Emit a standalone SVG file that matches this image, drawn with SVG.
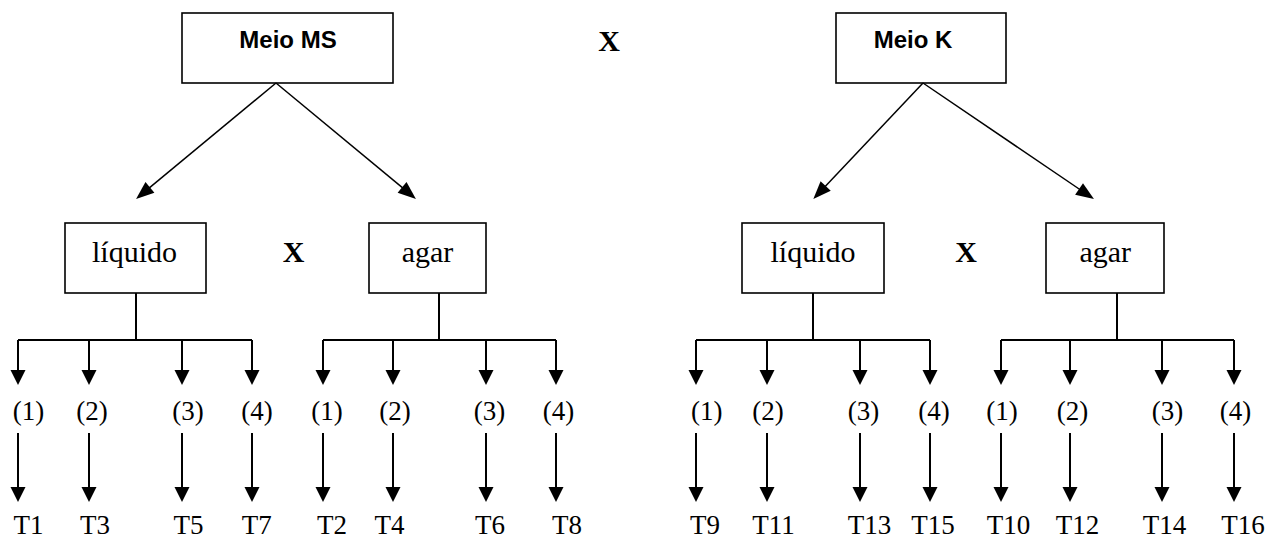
<svg xmlns="http://www.w3.org/2000/svg" width="1269" height="538" viewBox="0 0 1269 538">
<style>
.box{fill:#fff;stroke:#000;stroke-width:1.6}
.hd{font-family:"Liberation Sans",Arial,sans-serif;font-weight:bold;font-size:24px;text-anchor:middle}
.tx{font-family:"Liberation Serif","Times New Roman",serif;font-size:30px;text-anchor:middle}
.sm{font-family:"Liberation Serif","Times New Roman",serif;font-size:27px;text-anchor:middle}
.xx{font-family:"Liberation Serif","Times New Roman",serif;font-weight:bold;font-size:30px;text-anchor:middle}
.ln{fill:none;stroke:#000;stroke-width:2}
.dg{fill:none;stroke:#000;stroke-width:1.5}
.av{marker-end:url(#av)}
.ad{marker-end:url(#ad)}
</style>
<defs>
<marker id="av" markerUnits="userSpaceOnUse" markerWidth="16" markerHeight="16" refX="8" refY="7.5" orient="auto" overflow="visible"><path d="M0,0 L15,7.5 L0,15 Z" fill="#000"/></marker>
<marker id="ad" markerUnits="userSpaceOnUse" markerWidth="18" markerHeight="15" refX="9" refY="7" orient="auto" overflow="visible"><path d="M0,0 L18,7 L0,14 Z" fill="#000"/></marker>
</defs>
<rect width="1269" height="538" fill="#fff"/>
<g id="meio-ms"><rect class="box" x="182" y="13" width="211" height="70"/><text class="hd" x="288" y="48">Meio MS</text></g>
<g id="meio-k"><rect class="box" x="836" y="13" width="170" height="70"/><text class="hd" x="913" y="48">Meio K</text></g>
<g id="x-top"><text class="xx" x="609" y="51">X</text></g>
<g id="ms-liquido"><rect class="box" x="65" y="223" width="141" height="70"/><text class="tx" x="134.5" y="262">líquido</text></g>
<g id="ms-agar"><rect class="box" x="369" y="223" width="117" height="70"/><text class="tx" x="427.5" y="262">agar</text></g>
<g id="x-ms"><text class="xx" x="293.5" y="262">X</text></g>
<g id="k-liquido"><rect class="box" x="742" y="223" width="142" height="70"/><text class="tx" x="813" y="262">líquido</text></g>
<g id="k-agar"><rect class="box" x="1046" y="223" width="118" height="70"/><text class="tx" x="1105.3" y="262">agar</text></g>
<g id="x-k"><text class="xx" x="966" y="262">X</text></g>
<g id="connectors">
<line class="dg ad" x1="276" y1="83" x2="143" y2="193.2"/>
<line class="dg ad" x1="276" y1="83" x2="409" y2="193.2"/>
<line class="dg ad" x1="923" y1="83" x2="819.5" y2="192.5"/>
<line class="dg ad" x1="923" y1="83" x2="1086.5" y2="194"/>
<path class="ln" d="M136,293V340M18,340H252M439,293V340M323,340H556M813,293V340M696,340H930M1117,293V340M1001,340H1234"/>
<g class="ln av">
<line x1="18" y1="340" x2="18" y2="378"/><line x1="89" y1="340" x2="89" y2="378"/><line x1="182" y1="340" x2="182" y2="378"/><line x1="252" y1="340" x2="252" y2="378"/>
<line x1="323" y1="340" x2="323" y2="378"/><line x1="393" y1="340" x2="393" y2="378"/><line x1="486" y1="340" x2="486" y2="378"/><line x1="556" y1="340" x2="556" y2="378"/>
<line x1="696" y1="340" x2="696" y2="378"/><line x1="767" y1="340" x2="767" y2="378"/><line x1="860" y1="340" x2="860" y2="378"/><line x1="930" y1="340" x2="930" y2="378"/>
<line x1="1001" y1="340" x2="1001" y2="378"/><line x1="1070" y1="340" x2="1070" y2="378"/><line x1="1162" y1="340" x2="1162" y2="378"/><line x1="1234" y1="340" x2="1234" y2="378"/>
<line x1="18" y1="433" x2="18" y2="495"/><line x1="89" y1="433" x2="89" y2="495"/><line x1="182" y1="433" x2="182" y2="495"/><line x1="252" y1="433" x2="252" y2="495"/>
<line x1="323" y1="433" x2="323" y2="495"/><line x1="393" y1="433" x2="393" y2="495"/><line x1="486" y1="433" x2="486" y2="495"/><line x1="556" y1="433" x2="556" y2="495"/>
<line x1="696" y1="433" x2="696" y2="495"/><line x1="767" y1="433" x2="767" y2="495"/><line x1="860" y1="433" x2="860" y2="495"/><line x1="930" y1="433" x2="930" y2="495"/>
<line x1="1001" y1="433" x2="1001" y2="495"/><line x1="1070" y1="433" x2="1070" y2="495"/><line x1="1162" y1="433" x2="1162" y2="495"/><line x1="1234" y1="433" x2="1234" y2="495"/>
</g>
</g>
<g id="labels">
<text class="sm" x="28.5" y="420">(1)</text><text class="sm" x="92" y="420">(2)</text><text class="sm" x="188" y="420">(3)</text><text class="sm" x="257" y="420">(4)</text>
<text class="sm" x="327" y="420">(1)</text><text class="sm" x="395" y="420">(2)</text><text class="sm" x="489.5" y="420">(3)</text><text class="sm" x="558.5" y="420">(4)</text>
<text class="sm" x="706.7" y="420">(1)</text><text class="sm" x="768" y="420">(2)</text><text class="sm" x="863.5" y="420">(3)</text><text class="sm" x="934" y="420">(4)</text>
<text class="sm" x="1002" y="420">(1)</text><text class="sm" x="1072.5" y="420">(2)</text><text class="sm" x="1167.5" y="420">(3)</text><text class="sm" x="1235.5" y="420">(4)</text>
</g>
<g id="treatments">
<text class="sm" x="28.5" y="534">T1</text><text class="sm" x="95" y="534">T3</text><text class="sm" x="188.5" y="534">T5</text><text class="sm" x="256.7" y="534">T7</text>
<text class="sm" x="332" y="534">T2</text><text class="sm" x="389.5" y="534">T4</text><text class="sm" x="490" y="534">T6</text><text class="sm" x="567" y="534">T8</text>
<text class="sm" x="705" y="534">T9</text><text class="sm" x="773.5" y="534">T11</text><text class="sm" x="869.5" y="534">T13</text><text class="sm" x="933" y="534">T15</text>
<text class="sm" x="1008.5" y="534">T10</text><text class="sm" x="1077.5" y="534">T12</text><text class="sm" x="1164.5" y="534">T14</text><text class="sm" x="1243" y="534">T16</text>
</g>
</svg>
